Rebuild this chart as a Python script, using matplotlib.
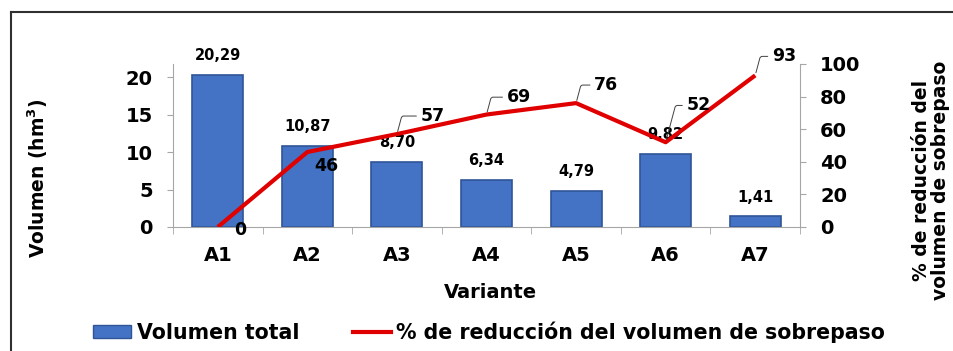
import matplotlib
matplotlib.use("Agg")
import matplotlib.pyplot as plt
from matplotlib.lines import Line2D
from matplotlib.patches import Patch

variantes = ["A1", "A2", "A3", "A4", "A5", "A6", "A7"]
volumen_total = [20.29, 10.87, 8.70, 6.34, 4.79, 9.82, 1.41]
reduccion = [0, 46, 57, 69, 76, 52, 93]
etiquetas_vol = ["20,29", "10,87", "8,70", "6,34", "4,79", "9,82", "1,41"]

# label offsets (points) for the line labels
offsets_red = [(16, -2), (14, -10), (17, 13), (14.5, 12.5), (13, 13), (15, 26.5), (12, 13.7)]

plt.rcParams["font.family"] = ["DejaVu Sans"]
plt.rcParams["font.weight"] = "bold"

W, H = 954, 351
fig = plt.figure(figsize=(W / 100, H / 100), dpi=100)
ax = fig.add_axes([173 / W, 1 - 227 / H, (800 - 173) / W, (227 - 64) / H])
ax2 = ax.twinx()

x = list(range(len(variantes)))
azul = "#4472C4"
rojo = "#E00000"
gris = "#A6A6A6"

ax.bar(x, volumen_total, width=0.57, color=azul, edgecolor="#2F5597", linewidth=1.2, zorder=2)
for xi, v, t in zip(x, volumen_total, etiquetas_vol):
    ax.annotate(t, (xi, v), xytext=(0, 14), textcoords="offset points",
                ha="center", va="center", fontsize=10.5, fontweight="bold", zorder=5)

ax2.plot(x, reduccion, color=rojo, lw=3, solid_capstyle="butt", zorder=3)
for i, (xi, r) in enumerate(zip(x, reduccion)):
    dx, dy = offsets_red[i]
    if dy > 5:
        ax2.annotate(str(r), (xi, r), xytext=(dx, dy), textcoords="offset points",
                     ha="left", va="center", fontsize=12.5, fontweight="bold",
                     arrowprops=dict(arrowstyle="-", color="#404040", lw=0.7,
                                     shrinkA=1, shrinkB=2,
                                     connectionstyle="angle,angleA=0,angleB=75,rad=2"))
    else:
        ax2.annotate(str(r), (xi, r), xytext=(dx, dy), textcoords="offset points",
                     ha="center", va="center", fontsize=12.5, fontweight="bold")

ax.set_xlim(-0.5, len(variantes) - 0.5)
ax.set_ylim(0, 21.8)
ax2.set_ylim(0, 100)
ax.set_yticks([0, 5, 10, 15, 20])
ax2.set_yticks([0, 20, 40, 60, 80, 100])

ax.set_xticks(x)
ax.set_xticklabels(variantes)
ax.set_xticks([i - 0.5 for i in range(len(variantes) + 1)], minor=True)
ax.tick_params(axis="x", which="major", length=0, pad=14, labelsize=14)
ax.tick_params(axis="x", which="minor", length=5, color=gris)
ax.tick_params(axis="y", length=4.5, color=gris, labelsize=14, pad=10)
ax2.tick_params(axis="y", length=4.5, color=gris, labelsize=14, pad=10)

for a in (ax, ax2):
    a.spines["top"].set_visible(False)
    for s in ("left", "right", "bottom"):
        a.spines[s].set_color(gris)
ax.spines["right"].set_visible(False)
ax2.spines["left"].set_visible(False)
ax2.spines["bottom"].set_visible(False)

fig.text(490 / W, 1 - 293 / H, "Variante", ha="center", va="center", fontsize=14, fontweight="bold")
fig.text(38 / W, 1 - 178 / H, "Volumen (hm$^\\mathbf{3}$)", ha="center", va="center",
         rotation=90, fontsize=13.5, fontweight="bold")
fig.text(931 / W, 1 - 180 / H, "% de reducción del\nvolumen de sobrepaso", ha="center", va="center",
         rotation=90, fontsize=13.5, fontweight="bold", linespacing=1.0)

handles = [Patch(facecolor=azul, edgecolor="#2F5597"),
           Line2D([], [], color=rojo, lw=3)]
fig.legend(handles, ["Volumen total", "% de reducción del volumen de sobrepaso"],
           loc="center", bbox_to_anchor=(489 / W, 1 - 332 / H), ncol=2, frameon=False,
           handlelength=1.85, handleheight=0.55, handletextpad=0.25,
           columnspacing=2.6, prop={"weight": "bold", "size": 14.8})

# outer frame (top and left edge visible in the picture)
fig.add_artist(Line2D([11 / W, 11 / W], [0, 1 - 12 / H], color="#303030", lw=1.5))
fig.add_artist(Line2D([11 / W, 1], [1 - 12 / H, 1 - 12 / H], color="#303030", lw=1.5))

fig.savefig("out.png", dpi=100)
